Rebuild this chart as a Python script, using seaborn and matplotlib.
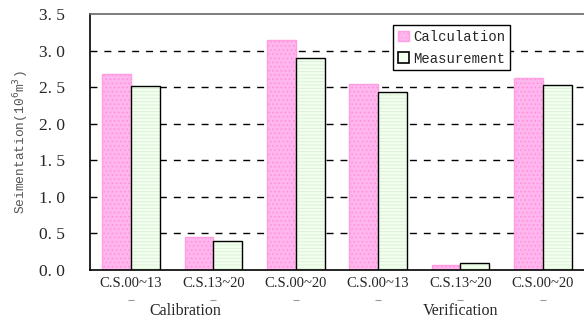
import matplotlib
matplotlib.use("Agg")
import matplotlib.pyplot as plt
import pandas as pd
import seaborn as sns
from matplotlib.patches import Patch

# data
sections = ["C.S.00~13", "C.S.13~20", "C.S.00~20", "C.S.00~13", "C.S.13~20", "C.S.00~20"]
calculation = [2.68, 0.45, 3.15, 2.55, 0.07, 2.62]
measurement = [2.52, 0.39, 2.90, 2.43, 0.09, 2.53]
phases = ["Calibration", "Verification"]
ytick_values = [0.0, 0.5, 1.0, 1.5, 2.0, 2.5, 3.0, 3.5]

rows = []
for i in range(len(sections)):
    rows.append({"idx": i, "kind": "Calculation", "value": calculation[i]})
    rows.append({"idx": i, "kind": "Measurement", "value": measurement[i]})
df = pd.DataFrame(rows)

sns.set_style("white")
plt.rcParams["hatch.linewidth"] = 0.6

fig = plt.figure(figsize=(5.84, 3.24), dpi=100)
ax = fig.add_axes([0.154, 0.1667, 0.846, 0.79])

sns.barplot(data=df, x="idx", y="value", hue="kind", width=0.7,
            palette=["#ffb6ee", "#f2fff0"], saturation=1, ax=ax, legend=False)

# style the two bar series
styles = [("#ff9ee0", "....", "#ff8fd8"), ("black", "-----", "#d8f0d0")]
for cont, (ec, hatch, hc) in zip(ax.containers, styles):
    for bar in cont:
        bar.set_edgecolor(ec)
        bar.set_linewidth(1.0)
        bar.set_hatch(hatch)
        bar._hatch_color = matplotlib.colors.to_rgba(hc)

ax.set_xlim(-0.5, 5.5)
ax.set_ylim(0, 3.5)

# dashed grid lines
for y in ytick_values[1:-1]:
    ax.axhline(y, color="black", lw=1.0, ls=(0, (5, 5)), zorder=0)

ax.set_yticks(ytick_values)
ax.set_yticklabels([f"{v:.1f}".replace(".", ". ") for v in ytick_values],
                   fontfamily="Liberation Serif", fontsize=12.5)
ax.set_xticks(range(len(sections)))
ax.set_xticklabels(sections, fontfamily="Liberation Serif", fontsize=10.5)
ax.tick_params(axis="x", length=0, pad=5)
ax.tick_params(axis="y", length=0, pad=18)
ax.set_xticks([0.5, 1.5, 2.5, 3.5, 4.5], minor=True)
ax.tick_params(axis="x", which="minor", direction="in", length=4, color="#444444")

ax.set_xlabel("")
ax.set_ylabel("Seimentation(10$^6$m$^3$)", fontfamily="Liberation Mono",
              fontsize=9.3, color="#555555", labelpad=6)

for s in ["left", "bottom", "top"]:
    ax.spines[s].set_color("black")
    ax.spines[s].set_linewidth(1.2)
ax.spines["top"].set_color("#666666")
ax.spines["right"].set_visible(False)

# small dashes under each section label
ax.plot(range(len(sections)), [-0.117] * len(sections), ls="none", marker="_",
        ms=4, mew=0.8, color="#999999", transform=ax.get_xaxis_transform(),
        clip_on=False)

# group labels under the ticks
for pos, name in zip([0.66, 4.0], phases):
    ax.text(pos, -0.13, name, transform=ax.get_xaxis_transform(),
            ha="center", va="top", fontfamily="Liberation Serif", fontsize=11.5)

handles = [Patch(facecolor="#ffb6ee", edgecolor="#ff9ee0", hatch="...."),
           Patch(facecolor="#f2fff0", edgecolor="black", lw=1.2)]
leg = ax.legend(handles, ["Calculation", "Measurement"], loc="upper left",
                bbox_to_anchor=(0.613, 0.957), borderaxespad=0,
                prop={"family": "Liberation Mono", "size": 10},
                fancybox=False, framealpha=1, edgecolor="black",
                handlelength=0.8, handleheight=0.8, handletextpad=0.3,
                borderpad=0.35, labelspacing=0.55)
leg.get_frame().set_linewidth(1.0)

fig.savefig("out.png", dpi=100)
